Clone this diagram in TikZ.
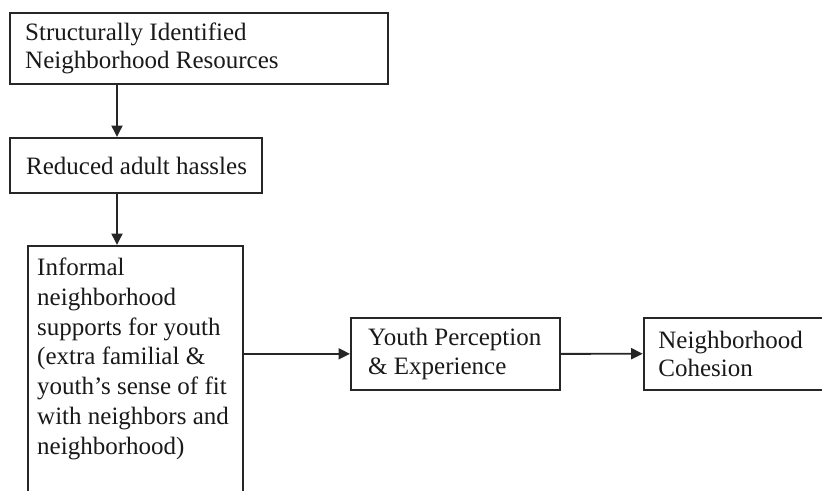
\documentclass[tikz,border=0pt]{standalone}
\usepackage{fontspec}
\setmainfont{Liberation Serif}
\usetikzlibrary{arrows.meta}
\begin{document}
\begin{tikzpicture}[x=1pt,y=-1pt,
  box/.style={draw=black!85, line width=2pt, rectangle, inner sep=0pt, anchor=north west},
  txt/.style={font=\fontsize{25}{28.5}\selectfont, align=left, inner sep=0pt, text=black!90},
  txtb/.style={font=\fontsize{25}{29.7}\selectfont, align=left, inner sep=0pt, text=black!90},
  arr/.style={draw=black!85, line width=1.9pt, -{Triangle[length=11.5pt,width=11pt]}}]
\useasboundingbox (0,0) rectangle (822,490);
\clip (0,0) rectangle (822,490);
% boxes
\node[box, minimum width=378pt, minimum height=71pt] (b1) at (9,12) {};
\node[box, minimum width=252pt, minimum height=55pt] (b2) at (9,137) {};
\node[box, minimum width=215pt, minimum height=290pt] (b3) at (27,245) {};
\node[box, minimum width=209pt, minimum height=72.3pt] (b4) at (350,316.7) {};
\node[box, minimum width=210pt, minimum height=72pt] (b5) at (642.7,316.7) {};
% texts
\node[txt, anchor=west] (t1) at ([xshift=16pt]b1.west) {Structurally Identified\\Neighborhood Resources};
\node[txt, anchor=west] (t2) at ([xshift=17pt]b2.west) {Reduced adult hassles};
\node[txtb, anchor=north west] (t3) at ([xshift=10pt,yshift=-13pt]b3.north west)
  {Informal\\neighborhood\\supports for youth\\(extra familial \&\\youth’s sense of fit\\with neighbors and\\neighborhood)};
\node[txt, anchor=west] (t4) at ([xshift=18pt]b4.west) {Youth Perception\\\& Experience};
\node[txt, anchor=west] (t5) at ([xshift=15.5pt]b5.west) {Neighborhood\\Cohesion};
% connectors
\coordinate (ax) at (117,0);
\draw[arr] (b1.south -| ax) -- (b2.north -| ax);
\draw[arr] (b2.south -| ax) -- (b3.north -| ax);
\draw[arr] (b3.east |- b4.west) -- (b4.west);
\draw[arr] (b4.east) -- (b5.west);
\end{tikzpicture}
\end{document}
